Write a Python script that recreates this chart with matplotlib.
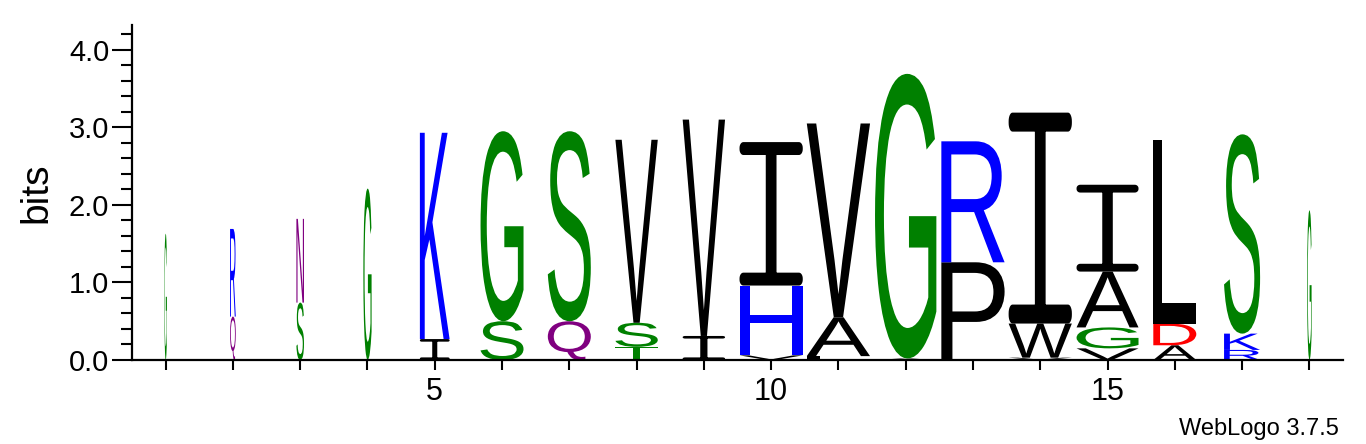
import numpy as np
import matplotlib
matplotlib.use('Agg')
import matplotlib.pyplot as plt
from matplotlib.textpath import TextPath
from matplotlib.patches import PathPatch
from matplotlib.path import Path
from matplotlib.font_manager import FontProperties
from matplotlib.transforms import Affine2D
from matplotlib.ticker import MultipleLocator, FixedLocator

# ---- data ----
positions = list(range(1, 19))
stack_letters = [
    ['G'], ['Q', 'R'], ['S', 'N'], ['G'], ['I', 'K'], ['S', 'G'], ['Q', 'S'],
    ['T', 'S', 'V'], ['I', 'V'], ['V', 'H', 'I'], ['L', 'A', 'V'], ['A', 'G'],
    ['P', 'R'], ['V', 'W', 'I'], ['V', 'G', 'A', 'I'], ['A', 'D', 'L'],
    ['R', 'K', 'S'], ['G'],
]
stack_heights = [
    [1.63], [0.56, 1.13], [0.74, 1.08], [2.21], [0.27, 2.66], [0.50, 2.45],
    [0.50, 2.45], [0.17, 0.31, 2.36], [0.31, 2.79], [0.06, 0.90, 1.85],
    [0.05, 0.50, 2.50], [0.02, 3.67], [1.26, 1.56], [0.03, 0.44, 2.72],
    [0.15, 0.27, 0.72, 1.12], [0.19, 0.28, 2.37], [0.13, 0.21, 2.57], [1.93],
]
stack_occupancy = [0.04, 0.09, 0.12, 0.13, 0.47, 0.68, 0.68, 0.67, 0.67, 1.0,
                   1.0, 0.97, 1.0, 1.0, 0.98, 0.68, 0.57, 0.07]
x_tick_labels = ['5', '10', '15']
x_tick_label_pos = [5, 10, 15]

colors = {
    'G': '#008000', 'S': '#008000', 'T': '#008000', 'Y': '#008000', 'C': '#008000',
    'N': '#800080', 'Q': '#800080',
    'K': '#0000FF', 'R': '#0000FF', 'H': '#0000FF',
    'D': '#FF0000', 'E': '#FF0000',
    'A': '#000000', 'V': '#000000', 'L': '#000000', 'I': '#000000',
    'P': '#000000', 'W': '#000000', 'F': '#000000', 'M': '#000000',
}

FULL_W = 0.94
YMAX = 4.32
fp_main = FontProperties(family='Liberation Sans')

fig = plt.figure(figsize=(13.66, 4.44), dpi=100)
ax = fig.add_axes([132 / 1366, 1 - 360 / 444, (1343 - 132) / 1366, (360 - 25) / 444])
ax.set_xlim(0.5, 18.5)
ax.set_ylim(0, YMAX)
PX_PER_BIT = (360 - 25) / YMAX


def rounded_rect(x0, y0, x1, y1, rx, ry, n=8):
    pts = []
    corners = [((x1 - rx, y0 + ry), -np.pi / 2, 0.0),
               ((x1 - rx, y1 - ry), 0.0, np.pi / 2),
               ((x0 + rx, y1 - ry), np.pi / 2, np.pi),
               ((x0 + rx, y0 + ry), np.pi, 1.5 * np.pi)]
    for (cx, cy), a0, a1 in corners:
        for a in np.linspace(a0, a1, n):
            pts.append((cx + rx * np.cos(a), cy + ry * np.sin(a)))
    pts.append(pts[0])
    codes = [Path.MOVETO] + [Path.LINETO] * (len(pts) - 2) + [Path.CLOSEPOLY]
    return pts, codes


def glyph_I(t):
    # unit-box glyph of the serif "I" used by WebLogo
    s = 0.085
    verts, codes = [], []
    for part in (rounded_rect(0, 0, 1, t, 0.06, t * 0.45),
                 rounded_rect(0, 1 - t, 1, 1, 0.06, t * 0.45),
                 rounded_rect(0.5 - s, t * 0.5, 0.5 + s, 1 - t * 0.5, 0.0001, 0.0001, n=2)):
        verts += part[0]
        codes += part[1]
    return Path(verts, codes)


def draw_letter(ax, ch, xc, y0, w, h):
    if ch == 'I':
        t = min(0.3, max(0.09, 2.6 / (h * PX_PER_BIT)))
        tp = glyph_I(t)
    else:
        tp = TextPath((0, 0), ch, size=1, prop=fp_main)
    ext = tp.get_extents()
    tr = (Affine2D().translate(-ext.x0, -ext.y0)
          .scale(w / ext.width, h / ext.height)
          .translate(xc - w / 2, y0))
    path = tr.transform_path(tp)
    ax.add_patch(PathPatch(path, facecolor=colors[ch], edgecolor='none', lw=0))


for pos, letters, heights, occ in zip(positions, stack_letters, stack_heights, stack_occupancy):
    y = 0.0
    w = FULL_W * occ
    for ch, h in zip(letters, heights):
        draw_letter(ax, ch, pos, y, w, h)
        y += h

for s in ['top', 'right']:
    ax.spines[s].set_visible(False)
ax.spines['left'].set_linewidth(1.6)
ax.spines['bottom'].set_linewidth(1.6)

ax.yaxis.set_major_locator(FixedLocator([0, 1, 2, 3, 4]))
ax.yaxis.set_minor_locator(MultipleLocator(0.2))
ax.set_yticklabels(['0.0', '1.0', '2.0', '3.0', '4.0'])
ax.tick_params(axis='y', which='major', length=14.4, width=1.5, pad=2,
               labelsize=21)
ax.tick_params(axis='y', which='minor', length=8, width=1.5)
ax.xaxis.set_major_locator(FixedLocator(positions))
ax.set_xticklabels([x_tick_labels[x_tick_label_pos.index(p)] if p in x_tick_label_pos else ''
                    for p in positions])
ax.tick_params(axis='x', which='major', length=7.5, width=1.5, pad=5, labelsize=22)
for lab in ax.get_xticklabels() + ax.get_yticklabels():
    lab.set_fontfamily('Liberation Sans')

ax.set_ylabel('bits', fontsize=28, fontfamily='Liberation Sans', labelpad=10)

fig.text(1339 / 1366, 1 - 435 / 444, 'WebLogo 3.7.5', ha='right', va='baseline',
         fontsize=17, fontfamily='Liberation Sans')

fig.savefig('out.png', dpi=100)
